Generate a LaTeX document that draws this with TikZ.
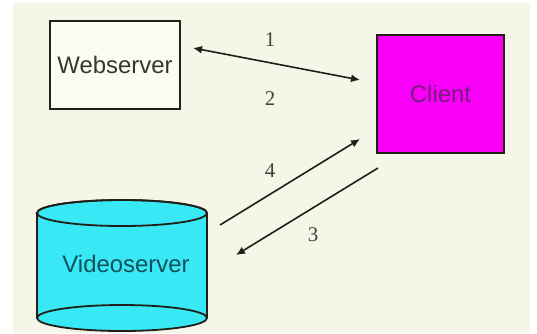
\documentclass[tikz,border=0pt]{standalone}
\usepackage{fontspec}
\setmainfont{Liberation Serif}
\setsansfont{Liberation Sans}
\usetikzlibrary{arrows.meta}
\definecolor{paper}{HTML}{F5F5E8}
\definecolor{boxfill}{HTML}{FBFBEF}
\definecolor{edge}{HTML}{202018}
\definecolor{clientfill}{HTML}{F800F8}
\definecolor{clienttext}{HTML}{7A1A80}
\definecolor{dbfill}{HTML}{38E8F4}
\definecolor{dbtext}{HTML}{10505A}
\tikzset{
  boxlabel/.style={font=\sffamily\fontsize{24}{28}\selectfont},
  box/.style={draw=edge, line width=1.8bp, inner sep=0pt, boxlabel},
  outline/.style={draw=edge, line width=1.8bp},
  link/.style={draw=edge, line width=1.6bp, -{Latex[length=9bp,width=8bp]}},
  biglink/.style={draw=edge, line width=1.6bp, {Latex[length=9bp,width=8bp]}-{Latex[length=9bp,width=8bp]}},
  num/.style={font=\fontsize{21}{24}\selectfont, text=edge!85, inner sep=0pt}
}
\begin{document}
\begin{tikzpicture}[x=1bp,y=-1bp]
  \useasboundingbox (0,0) rectangle (537,333);
  \fill[white] (0,0) rectangle (537,333);
  \fill[paper] (13,3) rectangle (530,333);

  % Webserver box
  \node[box, fill=boxfill, text=edge!90, minimum width=130bp, minimum height=88bp]
    (web) at (115,65) {Webserver};

  % Client box
  \node[box, fill=clientfill, text=clienttext, minimum width=127bp, minimum height=118bp]
    (client) at (440.5,94) {Client};

  % Videoserver cylinder: body, bottom face, top face
  \filldraw[outline, fill=dbfill]
    (37,213) -- (37,318) arc[start angle=180, end angle=360, x radius=85bp, y radius=13bp]
    -- (207,213) arc[start angle=0, end angle=180, x radius=85bp, y radius=13bp] -- cycle;
  \draw[outline] (37,318) arc[start angle=180, end angle=0, x radius=85bp, y radius=13bp];
  \draw[outline] (122,213) ellipse[x radius=85bp, y radius=13bp];
  \node[boxlabel, text=dbtext] (video) at (126,264) {Videoserver};

  % connector endpoints
  \coordinate (w1) at (193,48);
  \coordinate (c1) at (360,80);
  \coordinate (v4) at (220,225);
  \coordinate (c4) at (360,139);
  \coordinate (c3) at (378,168);
  \coordinate (v3) at (236,255);

  \draw[biglink] (w1) -- (c1);
  \draw[link] (v4) -- (c4);
  \draw[link] (c3) -- (v3);

  \node[num] (n1) at (270,40) {1};
  \node[num] (n2) at (270,99) {2};
  \node[num] (n4) at (270,171) {4};
  \node[num] (n3) at (313,235) {3};
\end{tikzpicture}
\end{document}
